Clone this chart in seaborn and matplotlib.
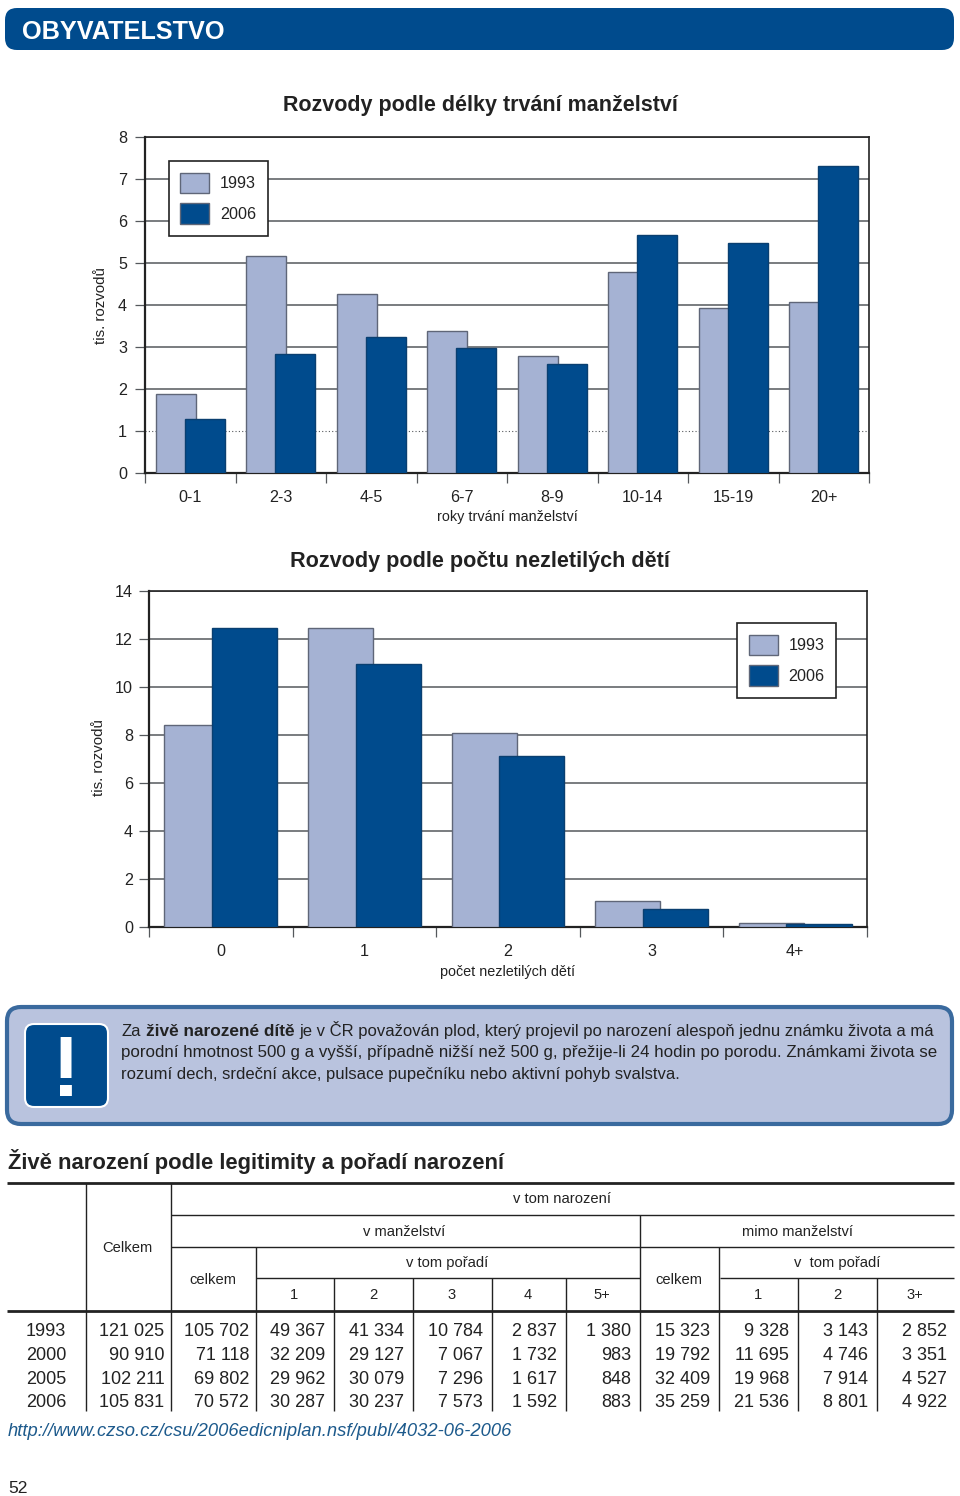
# -*- coding: utf-8 -*-
"""Rozvody a živě narození - stránka ze statistické ročenky."""

import pandas as pd
import matplotlib
matplotlib.use('Agg')
import matplotlib.pyplot as plt
from matplotlib.patches import FancyBboxPatch
from matplotlib.ticker import FixedLocator
import seaborn as sns

W, H = 960, 1496
LIGHT = '#a5b2d3'
DARK = '#004b8d'
INK = '#222222'
GRID = '#55585c'

years = ['1993', '2006']

# Graf 1: délka trvání manželství
duration_labels = ['0-1', '2-3', '4-5', '6-7', '8-9', '10-14', '15-19', '20+']
duration_1993 = [1.87, 5.16, 4.25, 3.38, 2.78, 4.79, 3.93, 4.07]
duration_2006 = [1.28, 2.83, 3.24, 2.98, 2.59, 5.66, 5.47, 7.31]

# Graf 2: počet nezletilých dětí
children_labels = ['0', '1', '2', '3', '4+']
children_1993 = [8.43, 12.44, 8.08, 1.08, 0.16]
children_2006 = [12.44, 10.96, 7.13, 0.75, 0.14]

# Tabulka
table_years = ['1993', '2000', '2005', '2006']
col_total = ['121 025', '90 910', '102 211', '105 831']
col_m_total = ['105 702', '71 118', '69 802', '70 572']
col_m_1 = ['49 367', '32 209', '29 962', '30 287']
col_m_2 = ['41 334', '29 127', '30 079', '30 237']
col_m_3 = ['10 784', '7 067', '7 296', '7 573']
col_m_4 = ['2 837', '1 732', '1 617', '1 592']
col_m_5 = ['1 380', '983', '848', '883']
col_o_total = ['15 323', '19 792', '32 409', '35 259']
col_o_1 = ['9 328', '11 695', '19 968', '21 536']
col_o_2 = ['3 143', '4 746', '7 914', '8 801']
col_o_3 = ['2 852', '3 351', '4 527', '4 922']

sns.set_theme(style='white', rc={'axes.linewidth': 1.2, 'axes.edgecolor': INK})
plt.rcParams['font.family'] = ['Liberation Sans', 'DejaVu Sans']

fig = plt.figure(figsize=(W / 100, H / 100), dpi=100, facecolor='white')


def px_axes(left, top, right, bottom):
    return fig.add_axes([left / W, 1 - bottom / H, (right - left) / W, (bottom - top) / H])


def bar_panel(box, labels, v1993, v2006, ymax, step, xlabel, width, gap, legend_xy, ypad, dotted=None):
    ax = px_axes(*box)
    df = pd.DataFrame({
        'kat': labels * 2,
        'rok': [years[0]] * len(labels) + [years[1]] * len(labels),
        'hodnota': list(v1993) + list(v2006),
    })
    sns.barplot(data=df, x='kat', y='hodnota', hue='rok', palette=[LIGHT, DARK],
                width=width, gap=gap, ax=ax, linewidth=1, edgecolor='#5f6678',
                saturation=1, zorder=3)
    for bar in ax.containers[1]:
        bar.set_edgecolor('#0a3f70')

    ax.set_xlim(-0.5, len(labels) - 0.5)
    ax.set_ylim(0, ymax)
    ax.set_yticks(range(0, ymax + 1, step))
    ax.yaxis.grid(True, color=GRID, linewidth=1.1)
    ax.set_axisbelow(True)
    if dotted is not None:
        line = ax.get_ygridlines()[dotted]
        line.set_linestyle((0, (1, 2)))
        line.set_linewidth(0.8)
    ax.tick_params(axis='y', left=True, length=7, width=0.9, color=GRID, labelsize=11.6,
                   labelcolor=INK, pad=ypad)
    ax.xaxis.set_minor_locator(FixedLocator([i - 0.5 for i in range(len(labels) + 1)]))
    ax.tick_params(axis='x', which='minor', bottom=True, length=7.5, width=0.9, color=GRID)
    ax.tick_params(axis='x', which='major', bottom=False, labelsize=11.6, labelcolor=INK, pad=6.5)
    ax.set_xlabel(xlabel, fontsize=10.4, color=INK, labelpad=4)
    ax.set_ylabel('')
    for side in ('left', 'bottom'):
        ax.spines[side].set_linewidth(1.6)
    for side in ('top', 'right'):
        ax.spines[side].set_visible(True)
    sns.move_legend(ax, loc='upper left', bbox_to_anchor=legend_xy, title=None, frameon=True,
                    fancybox=False, framealpha=1, edgecolor=INK, fontsize=11.6,
                    handlelength=1.8, handleheight=1.6, labelspacing=0.62,
                    borderpad=0.72, handletextpad=0.68, borderaxespad=0)
    ax.get_legend().get_frame().set_linewidth(1.2)
    ax.get_legend().set_zorder(5)
    for txt in ax.get_legend().get_texts():
        txt.set_color(INK)
    return ax


bar_panel((145, 137, 869, 472.5), duration_labels, duration_1993, duration_2006, 8, 1,
          'roky trvání manželství', 0.64, -0.375, (0.0325, 0.9285), 5.9, dotted=1)
bar_panel((149, 591, 867, 927), children_labels, children_1993, children_2006, 14, 2,
          'počet nezletilých dětí', 0.663, -0.367, (0.819, 0.905), 4.5, dotted=None)

# vrstva s texty a tabulkou v pixelových souřadnicích
page = fig.add_axes([0, 0, 1, 1], zorder=-1)
page.set_xlim(0, W)
page.set_ylim(H, 0)
page.axis('off')


def put(x, y, s, size=11, ha='left', weight='normal', color=INK, style='normal', va='center_baseline', **kw):
    page.text(x, y, s, fontsize=size, ha=ha, va=va, fontweight=weight,
              color=color, fontstyle=style, **kw)


def round_box(x0, y0, x1, y1, r, face, edge='none', lw=0):
    page.add_patch(FancyBboxPatch((x0, y0), x1 - x0, y1 - y0,
                                  boxstyle=f'round,pad=0,rounding_size={r}',
                                  facecolor=face, edgecolor=edge, linewidth=lw))


# hlavička
round_box(5, 8, 954, 50, 12, DARK)
put(22, 29.5, 'OBYVATELSTVO', size=18.2, weight='bold', color='white')

put(480, 103, 'Rozvody podle délky trvání manželství', size=15.5, ha='center', weight='bold')
put(480, 559, 'Rozvody podle počtu nezletilých dětí', size=15.6, ha='center', weight='bold')
put(101, 306, 'tis. rozvodů', size=10.8, ha='center', va='center', rotation=90)
put(99, 758, 'tis. rozvodů', size=10.8, ha='center', va='center', rotation=90)

# rámeček s definicí
round_box(7, 1007, 952, 1124, 14, '#b9c3de', edge='#3a6a9e', lw=3)
round_box(25, 1024, 108, 1107, 9, DARK, edge='white', lw=1.5)
put(66, 1096.5, '!', size=61, ha='center', va='baseline', weight='bold', color='white')
put(121, 1036, 'Za', size=12, va='baseline')
put(146, 1036, 'živě narozené dítě', size=12.4, weight='bold', va='baseline')
put(299, 1036, 'je v ČR považován plod, který projevil po narození alespoň jednu známku života a má',
    size=11.98, va='baseline')
put(121, 1057.5, 'porodní hmotnost 500 g a vyšší, případně nižší než 500 g, přežije-li 24 hodin po porodu. Známkami života se',
    size=12.15, va='baseline')
put(121, 1079, 'rozumí dech, srdeční akce, pulsace pupečníku nebo aktivní pohyb svalstva.', size=12, va='baseline')

# tabulka
put(8, 1158.5, 'Živě narození podle legitimity a pořadí narození', size=15.8, weight='bold')

hlines = [(7, 954, 1183, 2.0), (171, 954, 1214.5, 1.0), (171, 954, 1246.5, 1.0),
          (256, 640, 1278, 1.0), (720, 954, 1278, 1.0), (7, 954, 1311, 2.0)]
for x0, x1, y, lw in hlines:
    page.plot([x0, x1], [y, y], color=INK, lw=lw, solid_capstyle='butt')
vlines = [(86, 1183), (171, 1183), (255.5, 1246.5), (334, 1278), (413, 1278), (492, 1278),
          (566, 1278), (640, 1214.5), (719, 1246.5), (797.7, 1278), (876.7, 1278)]
for x, y0 in vlines:
    page.plot([x, x], [y0, 1411], color=INK, lw=1.0, solid_capstyle='butt')

head_size = 10.6
for x, y, s in [(562, 1197.5, 'v tom narození'), (127, 1246, 'Celkem'), (404, 1230, 'v manželství'),
                (797, 1230, 'mimo manželství'), (447, 1261.5, 'v tom pořadí'),
                (837, 1261.5, 'v  tom pořadí'), (213, 1278, 'celkem'), (679, 1278, 'celkem'),
                (294, 1293.5, '1'), (373, 1293.5, '2'), (452, 1293.5, '3'), (528, 1293.5, '4'),
                (602, 1293.5, '5+'), (758, 1293.5, '1'), (837, 1293.5, '2'), (915, 1293.5, '3+')]:
    put(x, y, s, size=head_size, ha='center')

row_y = [1330, 1353.5, 1377, 1400.5]
columns = [(164.5, col_total), (249, col_m_total), (325, col_m_1), (404, col_m_2), (483, col_m_3),
           (557, col_m_4), (631, col_m_5), (710, col_o_total),
           (789, col_o_1), (868, col_o_2), (947, col_o_3)]
for y, yr in zip(row_y, table_years):
    put(46, y, yr, size=13, ha='center')
for right, values in columns:
    for y, v in zip(row_y, values):
        put(right, y, v, size=13, ha='right')

put(8, 1430, 'http://www.czso.cz/csu/2006edicniplan.nsf/publ/4032-06-2006', size=13.2,
    style='italic', color='#1d5a8c')
put(8, 1487, '52', size=12.6)

fig.savefig('out.png', dpi=100)
